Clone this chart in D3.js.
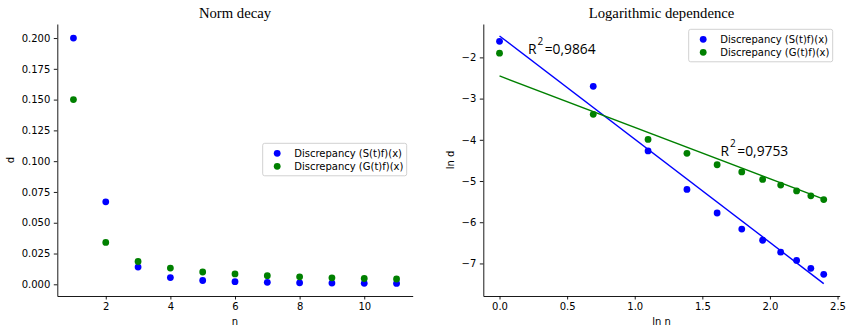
<!DOCTYPE html>
<html>
<head>
<meta charset="utf-8">
<script src="https://cdn.jsdelivr.net/npm/d3@7"></script>
<style>
    body { margin: 0; background: #fff; }
    svg { display: block; }
    text { font-family: "DejaVu Sans", sans-serif; fill: #000; }
</style>
</head>
<body>
<div class="chart"></div>
<script>
// values
const nValues = [1, 2, 3, 4, 5, 6, 7, 8, 9, 10, 11];
const discS = [0.200, 0.067, 0.014, 0.0055, 0.0031, 0.0021, 0.0016, 0.0012, 0.00098, 0.00081, 0.0007];
const discG = [0.150, 0.034, 0.0185, 0.0132, 0.0100, 0.0084, 0.0070, 0.0061, 0.0053, 0.0047, 0.0043];
const seriesNames = ["Discrepancy (S(t)f)(x)", "Discrepancy (G(t)f)(x)"];
const seriesColors = ["#0000ff", "#008000"];
// fitted lines on the log plot: ln d = slope * ln n + intercept
const fitSlopes = [-2.506, -1.247];
const fitIntercepts = [-1.48, -2.45];
const rSquared = ["0,9864", "0,9753"];
const rLabelAt = [[0.21, -1.92], [1.635, -4.40]];

const leftTicksX = [2, 4, 6, 8, 10];
const leftTicksY = [0, 0.025, 0.05, 0.075, 0.1, 0.125, 0.15, 0.175, 0.2];
const rightTicksX = [0, 0.5, 1, 1.5, 2, 2.5];
const rightTicksY = [-7, -6, -5, -4, -3, -2];

const width = 850;
const height = 334;

const svg = d3.select(".chart")
    .append("svg")
    .attr("width", width)
    .attr("height", height);

const drawPanel = (opts) => {
    const x = d3.scaleLinear().domain(opts.xDomain).range([opts.left, opts.right]);
    const y = d3.scaleLinear().domain(opts.yDomain).range([opts.bottom, opts.top]);

    const g = svg.append("g");

    const xAxis = g.append("g")
        .attr("transform", `translate(0,${opts.bottom})`)
        .call(d3.axisBottom(x).tickValues(opts.xTicks).tickFormat(opts.xFormat).tickSizeInner(3.5).tickSizeOuter(0).tickPadding(3.5));
    const yAxis = g.append("g")
        .attr("transform", `translate(${opts.left},0)`)
        .call(d3.axisLeft(y).tickValues(opts.yTicks).tickFormat(opts.yFormat).tickSizeInner(3.5).tickSizeOuter(0).tickPadding(3.5));

    [xAxis, yAxis].forEach(a => {
        a.select(".domain").attr("stroke", "#000").attr("stroke-width", 0.9);
        a.selectAll(".tick line").attr("stroke", "#000").attr("stroke-width", 0.9);
        a.selectAll(".tick text").attr("font-size", "10px").attr("font-family", "DejaVu Sans").attr("fill", "#000");
    });

    g.append("text")
        .attr("x", (opts.left + opts.right) / 2)
        .attr("y", 18)
        .attr("text-anchor", "middle")
        .style("font-family", "'Liberation Serif', 'Times New Roman', serif")
        .attr("font-size", "14.7px")
        .text(opts.title);

    g.append("text")
        .attr("x", (opts.left + opts.right) / 2)
        .attr("y", 325)
        .attr("text-anchor", "middle")
        .attr("font-size", "10px")
        .text(opts.xLabel);

    g.append("text")
        .attr("transform", `translate(${opts.yLabelX},${(opts.top + opts.bottom) / 2}) rotate(-90)`)
        .attr("text-anchor", "middle")
        .attr("font-size", "10px")
        .text(opts.yLabel);

    return { g, x, y };
};

const drawLegend = (g, lx, ly) => {
    const legend = g.append("g").attr("transform", `translate(${lx},${ly})`);
    legend.append("rect")
        .attr("width", 144)
        .attr("height", 32.5)
        .attr("rx", 2)
        .attr("fill", "#fff")
        .attr("fill-opacity", 0.8)
        .attr("stroke", "#cccccc")
        .attr("stroke-width", 0.9);
    const items = legend.selectAll(".legend-item")
        .data(seriesNames)
        .enter()
        .append("g")
        .attr("class", "legend-item")
        .attr("transform", (d, i) => `translate(0,${10 + i * 13})`);
    items.append("circle")
        .attr("cx", 14.5)
        .attr("cy", 0)
        .attr("r", 3.4)
        .attr("fill", (d, i) => seriesColors[i]);
    items.append("text")
        .attr("x", 31.5)
        .attr("y", 3.6)
        .attr("font-size", "10px")
        .text(d => d);
};

// left panel: Norm decay
const left = drawPanel({
    left: 57.3, right: 412.7, top: 24, bottom: 296,
    xDomain: [0.5, 11.5], yDomain: [-0.0095, 0.2114],
    xTicks: leftTicksX, yTicks: leftTicksY,
    xFormat: d3.format("d"), yFormat: d3.format(".3f"),
    title: "Norm decay", xLabel: "n", yLabel: "d", yLabelX: 14
});

[discS, discG].forEach((series, si) => {
    left.g.append("g")
        .selectAll("circle")
        .data(series)
        .enter()
        .append("circle")
        .attr("cx", (d, i) => left.x(nValues[i]))
        .attr("cy", d => left.y(d))
        .attr("r", 3.4)
        .attr("fill", seriesColors[si]);
});
drawLegend(left.g, 262.7, 143.3);

// right panel: Logarithmic dependence
const right = drawPanel({
    left: 483.3, right: 839.7, top: 24, bottom: 296,
    xDomain: [-0.12, 2.516], yDomain: [-7.79, -1.19],
    xTicks: rightTicksX, yTicks: rightTicksY,
    xFormat: d3.format(".1f"), yFormat: d3.format("d"),
    title: "Logarithmic dependence", xLabel: "ln n", yLabel: "ln d", yLabelX: 454
});

const lnN = nValues.map(n => Math.log(n));

[discS, discG].forEach((series, si) => {
    const xEnd = d3.max(lnN);
    right.g.append("line")
        .attr("x1", right.x(0))
        .attr("y1", right.y(fitIntercepts[si]))
        .attr("x2", right.x(xEnd))
        .attr("y2", right.y(fitSlopes[si] * xEnd + fitIntercepts[si]))
        .attr("stroke", seriesColors[si])
        .attr("stroke-width", 1.4);
});

[discS, discG].forEach((series, si) => {
    right.g.append("g")
        .selectAll("circle")
        .data(series)
        .enter()
        .append("circle")
        .attr("cx", (d, i) => right.x(lnN[i]))
        .attr("cy", d => right.y(Math.log(d)))
        .attr("r", 3.4)
        .attr("fill", seriesColors[si]);
});

rSquared.forEach((r, i) => {
    const t = right.g.append("text")
        .attr("x", right.x(rLabelAt[i][0]))
        .attr("y", right.y(rLabelAt[i][1]))
        .style("font-family", "'Open Sans', sans-serif")
        .attr("font-size", "13.8px");
    t.append("tspan").text("R");
    t.append("tspan").attr("dx", 1).attr("dy", -9.5).attr("font-size", "10px").text("2");
    t.append("tspan").attr("dx", 1.5).attr("dy", 9.5).text("=" + r);
});

drawLegend(right.g, 688.7, 29.3);
</script>
</body>
</html>
